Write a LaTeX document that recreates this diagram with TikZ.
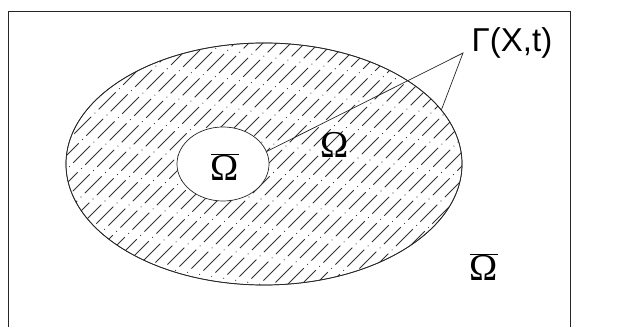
\documentclass[tikz,border=0pt]{standalone}
\usepackage{fontspec}
\setmainfont{Liberation Serif}
\newfontfamily\labelsans{Liberation Sans}
\usetikzlibrary{shapes.geometric, calc}

\begin{document}
\begin{tikzpicture}[
    x=0.025cm, y=-0.025cm,
    region/.style={ellipse, draw=black!85, line width=0.5pt, inner sep=0pt},
    hatch/.style={draw=black!80, line width=0.55pt, dash pattern=on 17pt off 3.5pt on 0.6pt off 3.5pt},
    leader/.style={draw=black!85, line width=0.5pt},
    omega/.style={inner sep=0pt, anchor=base, font=\fontsize{27}{30}\selectfont},
    gamma/.style={inner sep=0pt, anchor=base, font=\labelsans\fontsize{23.5}{28}\selectfont}
]
\useasboundingbox (0,0) rectangle (640,327);

% frame, open at the bottom
\draw[black!85, line width=0.7pt] (8,327) |- (570,11) -- (570,327);

\node[region, minimum width=9.9cm, minimum height=6.05cm] (domain) at (264,164) {};

% hatching of the domain
\begin{scope}
  \clip (264,164) ellipse [x radius=198, y radius=121];
  \foreach \x [evaluate=\x as \ph using {mod(\x*7,24)}] in {-40,-26,...,720}
    \draw[hatch, dash phase=\ph pt] (\x-170,334) -- (\x+170,-6);
\end{scope}
\draw[black!85, line width=0.5pt] (264,164) ellipse [x radius=198, y radius=121];

\node[region, fill=white, minimum width=2.3cm, minimum height=1.85cm] (hole) at (223,164) {};

\node[omega] (inner) at (225,181) {$\overline{\mbox{Ω}}$};
\node[omega] (mid) at (335,158) {Ω};
\node[omega] (outer) at (484,281) {$\overline{\mbox{Ω}}$};
\node[gamma] (gamma) at (512,52) {Γ(X,t)};

\coordinate (apex) at (463,53);
\draw[leader] (hole.16) -- (apex) -- (domain.17);

\end{tikzpicture}
\end{document}
